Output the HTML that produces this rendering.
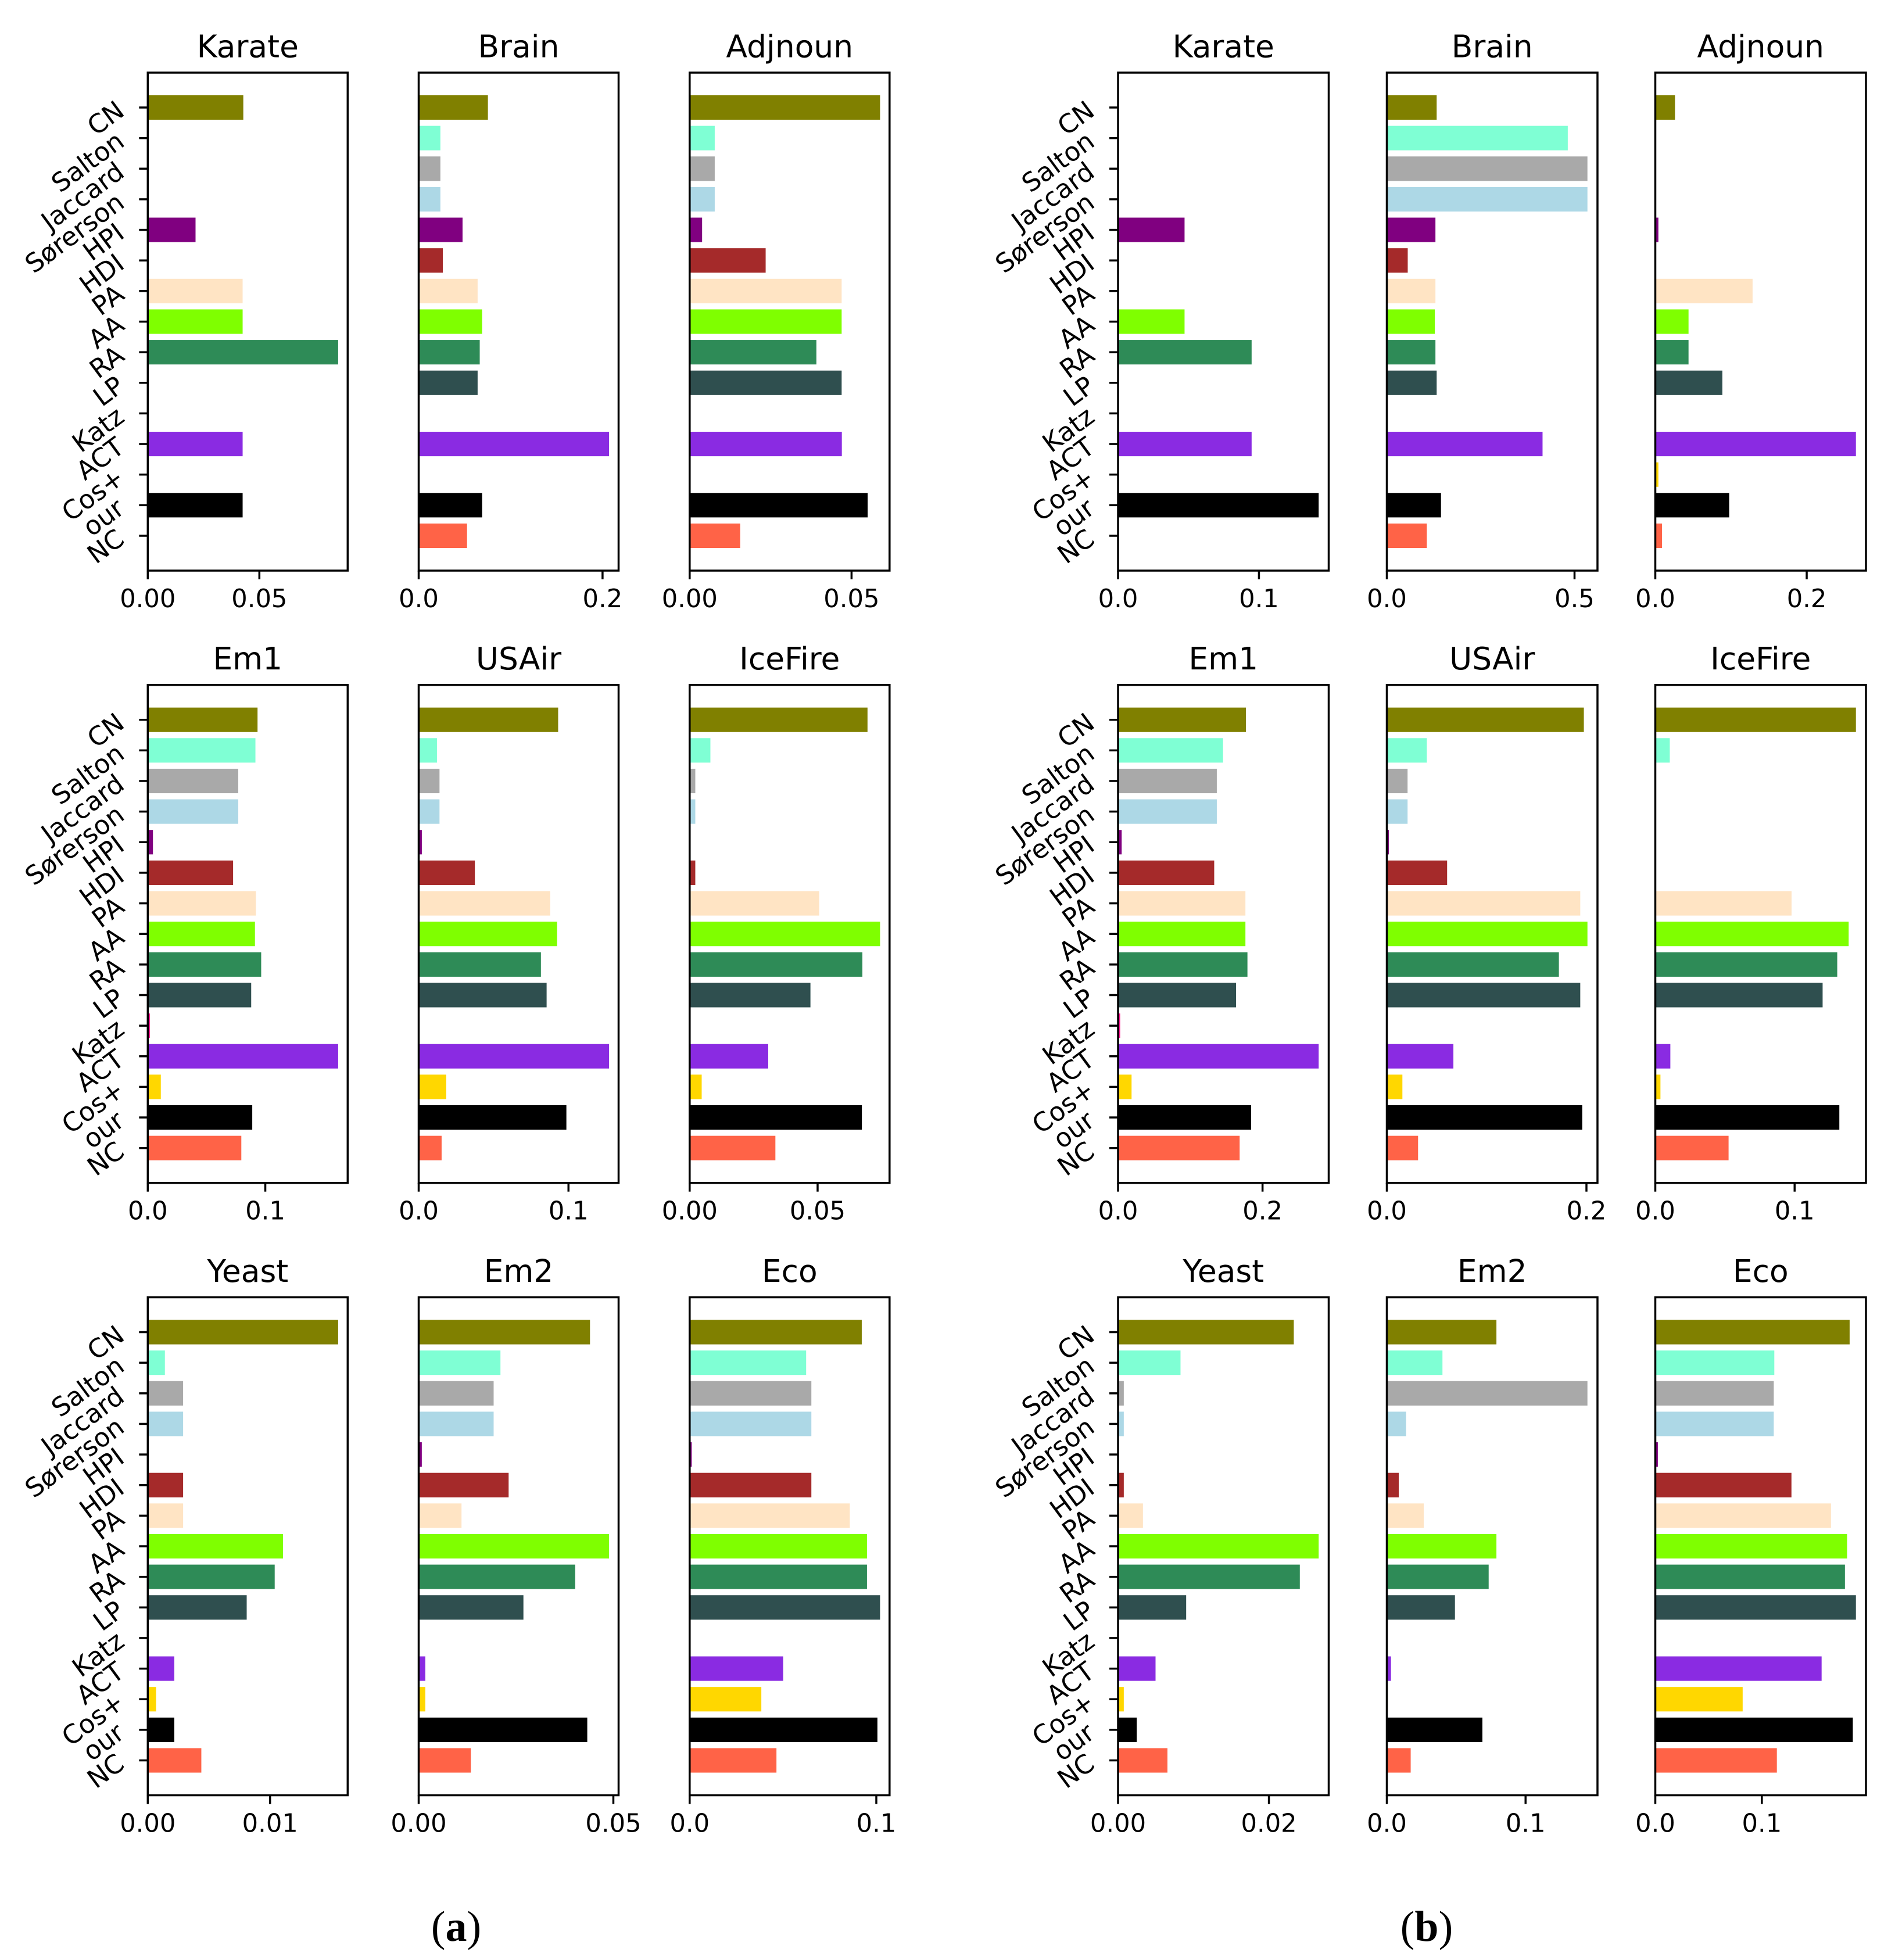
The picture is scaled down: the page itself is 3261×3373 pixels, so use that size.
<!DOCTYPE html>
<html lang="en">
<head>
<meta charset="utf-8">
<title>Method comparison bar charts</title>
<style>
html,body{margin:0;padding:0;background:#fff;}
svg{display:block;}
text{font-family:"DejaVu Sans","Liberation Sans",sans-serif;fill:#000;}
.caption{font-family:"Liberation Serif",serif;font-size:74px;}
</style>
</head>
<body>
<svg id="chart" xmlns="http://www.w3.org/2000/svg" width="3261" height="3373" viewBox="0 0 3261 3373">
<rect x="0" y="0" width="3261" height="3373" fill="#ffffff"/>
<g id="panels"></g>
<text class="caption" x="785" y="3340" text-anchor="middle">(<tspan font-weight="bold">a</tspan>)</text>
<text class="caption" x="2455" y="3340" text-anchor="middle">(<tspan font-weight="bold">b</tspan>)</text>
</svg>
<script>
// Categories, top to bottom
const methods = ['CN','Salton','Jaccard','Sørerson','HPI','HDI','PA','AA','RA','LP','Katz','ACT','Cos+','our','NC'];
const methodColors = ['#808000','#7fffd4','#a9a9a9','#add8e6','#800080','#a52a2a','#ffe4c4','#7fff00','#2e8b57','#2f4f4f','#ff1493','#8a2be2','#ffd700','#000000','#ff6347'];

// Group (a) series values, in the order of `methods`
const karateA  = [0.0428,0,0,0,0.0214,0,0.0425,0.0425,0.0853,0,0,0.0425,0,0.0425,0];
const brainA   = [0.0753,0.0236,0.0236,0.0236,0.0477,0.0263,0.0641,0.069,0.0664,0.0641,0,0.2071,0,0.069,0.0526];
const adjnounA = [0.0588,0.00774,0.00774,0.00774,0.00384,0.02347,0.04694,0.04694,0.03914,0.04694,0,0.047,0,0.05498,0.01561];
const em1A     = [0.0934,0.0916,0.077,0.077,0.0044,0.0726,0.092,0.0912,0.0965,0.088,0.0018,0.162,0.0111,0.0889,0.0796];
const usairA   = [0.0931,0.0122,0.0139,0.0139,0.0021,0.0375,0.0878,0.0924,0.0816,0.0854,0,0.1271,0.0184,0.0986,0.0153];
const icefireA = [0.0695,0.0081,0.0022,0.0022,0,0.0022,0.0506,0.0744,0.0675,0.0472,0,0.0307,0.0047,0.0673,0.0335];
const yeastA   = [0.01557,0.0014,0.00289,0.00289,0,0.00289,0.00289,0.01106,0.01038,0.00809,0,0.00217,0.00068,0.00217,0.00438];
const em2A     = [0.044,0.021,0.01925,0.01925,0.0008,0.0231,0.011,0.0489,0.0402,0.0269,0,0.0017,0.0017,0.0433,0.0134];
const ecoA     = [0.0922,0.0624,0.0652,0.0652,0.0011,0.0652,0.0858,0.095,0.095,0.102,0,0.0501,0.0384,0.1006,0.0465];

// Group (b) series values
const karateB  = [0,0,0,0,0.0472,0,0,0.0472,0.0948,0,0,0.0948,0,0.1424,0];
const brainB   = [0.1328,0.482,0.5344,0.5344,0.1295,0.0557,0.1295,0.1279,0.1295,0.1328,0,0.4148,0,0.1443,0.1066];
const adjnounB = [0.026,0,0,0,0.0041,0,0.1285,0.0439,0.0439,0.0886,0,0.265,0.0041,0.0976,0.0089];
const em1B     = [0.177,0.1453,0.1367,0.1367,0.005,0.1331,0.1763,0.1763,0.1791,0.1633,0.0029,0.2777,0.0187,0.1842,0.1683];
const usairB   = [0.1974,0.0401,0.0208,0.0208,0.0021,0.0604,0.1938,0.201,0.1724,0.1938,0,0.0667,0.0156,0.1958,0.0313];
const icefireB = [0.144,0.0104,0.0003,0.0003,0,0.0006,0.0978,0.1388,0.1306,0.1201,0,0.0108,0.0037,0.1321,0.0526];
const yeastB   = [0.0233,0.00828,0.00076,0.00076,0,0.00076,0.0033,0.0266,0.0241,0.00903,0,0.00497,0.00076,0.00248,0.00655];
const em2B     = [0.079,0.0401,0.1446,0.0139,0.0007,0.0086,0.0266,0.079,0.0734,0.0491,0,0.003,0.0007,0.0689,0.0172];
const ecoB     = [0.1824,0.1117,0.1112,0.1112,0.0024,0.1278,0.1649,0.18,0.178,0.1883,0,0.1561,0.082,0.1854,0.1141];

// Panel titles
const titlesByRow = [['Karate','Brain','Adjnoun'],['Em1','USAir','IceFire'],['Yeast','Em2','Eco']];

// X tick labels per panel
const ticksA = [[['0.00','0.05'],['0.0','0.2'],['0.00','0.05']],
                [['0.0','0.1'],['0.0','0.1'],['0.00','0.05']],
                [['0.00','0.01'],['0.00','0.05'],['0.0','0.1']]];
const ticksB = [[['0.0','0.1'],['0.0','0.5'],['0.0','0.2']],
                [['0.0','0.2'],['0.0','0.2'],['0.0','0.1']],
                [['0.00','0.02'],['0.0','0.1'],['0.0','0.1']]];

const seriesA = [[karateA,brainA,adjnounA],[em1A,usairA,icefireA],[yeastA,em2A,ecoA]];
const seriesB = [[karateB,brainB,adjnounB],[em1B,usairB,icefireB],[yeastB,em2B,ecoB]];

// Layout
const NS = 'http://www.w3.org/2000/svg';
const rowTops = [125, 1178.7, 2232.5];
const axH = 857;
const groupLayouts = [
  {id:'a', lefts:[254.3,720.5,1186.8], w:344,   series:seriesA, ticks:ticksA},
  {id:'b', lefts:[1924,2386.5,2848.5], w:362.5, series:seriesB, ticks:ticksB}
];
const LW = 3.5, TICK = 15, PAD = 15, TICK_FS = 43.2, YLABEL_FS = 44.6, TITLE_FS = 53.4;

function make(tag, attrs, parent){
  const el = document.createElementNS(NS, tag);
  for (const k in attrs) el.setAttribute(k, attrs[k]);
  parent.appendChild(el);
  return el;
}

// y axis: barh positions with 5% margins around the bar extents
function yScale(index, top){
  const unit = axH / ((methods.length - 1 + 0.8) * 1.1);
  return top + (0.4 + (methods.length - 1 + 0.8) * 0.05 + index) * unit;
}
function barHeight(){
  return 0.8 * axH / ((methods.length - 1 + 0.8) * 1.1);
}
// x axis: starts at zero, 5% margin above the largest value
function xScale(value, left, width, maxValue){
  return left + value / (maxValue * 1.05) * width;
}

function drawPanel(root, group, r, c){
  const left = group.lefts[c], top = rowTops[r], w = group.w;
  const values = group.series[r][c];
  const tickLabels = group.ticks[r][c];
  const title = titlesByRow[r][c];
  const key = title.toLowerCase() + '-' + group.id;
  const maxValue = Math.max.apply(null, values);

  const g = make('g', {}, root);
  
  

  values.forEach(function(v, i){
    if (v <= 0) return;
    const bar = make('rect', {
      x: left,
      y: yScale(i, top) - barHeight() / 2,
      width: xScale(v, left, w, maxValue) - left,
      height: barHeight(),
      fill: methodColors[i]
    }, g);
    
    
  });

  const frame = make('rect', {x:left, y:top, width:w, height:axH, fill:'none', stroke:'#000', 'stroke-width':LW}, g);
  
  

  const titleEl = make('text', {x:left + w / 2, y:top - 26.5, 'text-anchor':'middle', 'font-size':TITLE_FS}, g);
  titleEl.textContent = title;
  
  

  tickLabels.forEach(function(label){
    const x = xScale(Number(label), left, w, maxValue);
    const tick = make('line', {x1:x, x2:x, y1:top + axH, y2:top + axH + TICK, stroke:'#000', 'stroke-width':LW}, g);
    
    
    const text = make('text', {x:x, y:top + axH + TICK + PAD + 33, 'text-anchor':'middle', 'font-size':TICK_FS}, g);
    text.textContent = label;
    
    
  });

  if (c === 0) {
    methods.forEach(function(m, i){
      const y = yScale(i, top);
      const tick = make('line', {x1:left - TICK, x2:left, y1:y, y2:y, stroke:'#000', 'stroke-width':LW}, g);
      
      
      const text = make('text', {
        transform:'translate(' + (left - 37.5) + ',' + (y + 11.5) + ') rotate(-36.5)',
        'text-anchor':'end',
        'font-size':YLABEL_FS
      }, g);
      text.textContent = m;
      
      
    });
  }
}

const panelRoot = document.getElementById('panels');
groupLayouts.forEach(function(group){
  rowTops.forEach(function(_, r){
    group.lefts.forEach(function(_, c){
      drawPanel(panelRoot, group, r, c);
    });
  });
});
</script>
</body>
</html>
